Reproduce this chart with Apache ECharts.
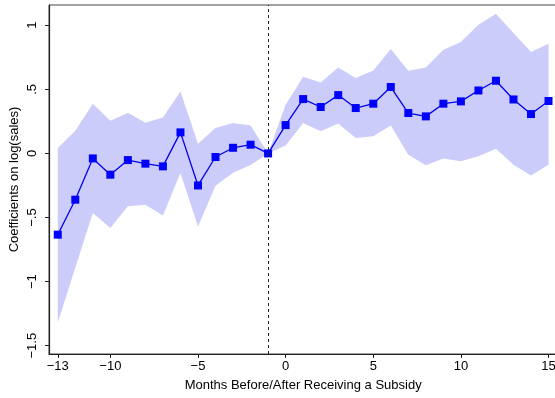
<!DOCTYPE html>
<html>
<head>
<meta charset="utf-8">
<script src="https://cdn.jsdelivr.net/npm/echarts@6/dist/echarts.min.js"></script>
<style>
  html, body { margin: 0; padding: 0; background: #fff; }
  #chart { width: 555px; height: 398px; }
</style>
</head>
<body>
<div id="chart"></div>
<script>
// Event-study coefficients on log(sales) by month relative to subsidy receipt
const months = [-13,-12,-11,-10,-9,-8,-7,-6,-5,-4,-3,-2,-1,0,1,2,3,4,5,6,7,8,9,10,11,12,13,14,15];
const coef = [-0.634,-0.361,-0.039,-0.166,-0.052,-0.080,-0.101,0.164,-0.250,-0.028,0.044,0.068,0.000,
              0.221,0.424,0.362,0.455,0.354,0.388,0.518,0.315,0.289,0.388,0.406,0.491,0.567,0.421,0.307,0.409];
const upper = [0.042,0.177,0.388,0.255,0.317,0.239,0.281,0.484,0.075,0.198,0.237,0.218,0.000,
               0.380,0.598,0.554,0.671,0.588,0.647,0.814,0.645,0.671,0.809,0.869,1.004,1.090,0.939,0.791,0.856];
const lower = [-1.320,-0.892,-0.465,-0.582,-0.413,-0.400,-0.484,-0.153,-0.570,-0.252,-0.150,-0.090,0.000,
               0.062,0.237,0.172,0.234,0.120,0.133,0.218,-0.010,-0.093,-0.039,-0.062,-0.023,0.037,-0.088,-0.172,-0.088];
const xTicks = [-13,-10,-5,0,5,10,15];
const yTicks = [-1.5,-1,-0.5,0,0.5,1];
const eventMonth = -1;

const fmt = v => {
  if (v === 0) return '0';
  let s = Math.abs(v).toString().replace(/^0\./, '.');
  return (v < 0 ? '\u2212' : '') + s;
};

const font = 'Liberation Sans, Arial, Helvetica, sans-serif';
const chart = echarts.init(document.getElementById('chart'), null, { renderer: 'canvas' });

chart.setOption({
  animation: false,
  grid: {
    left: 49, top: 5, bottom: 44, right: -2.3,
    outerBoundsMode: 'none', containLabel: false,
    show: true, borderColor: '#444', borderWidth: 1
  },
  xAxis: {
    type: 'value', min: -13.5, max: 15.5,
    name: 'Months Before/After Receiving a Subsidy',
    nameLocation: 'middle', nameGap: 25, nameMoveOverlap: false,
    nameTextStyle: { fontFamily: font, fontSize: 13, color: '#000' },
    axisLine: { show: true, onZero: false, lineStyle: { color: '#222', width: 1.2 } },
    axisTick: { show: true, length: 4, customValues: xTicks, lineStyle: { color: '#222' } },
    axisLabel: { customValues: xTicks, formatter: fmt, margin: 6, fontFamily: font, fontSize: 13, color: '#000' },
    splitLine: { show: false }
  },
  yAxis: {
    type: 'value', min: -1.565, max: 1.158,
    name: 'Coefficients on log(sales)',
    nameLocation: 'middle', nameGap: 28, nameMoveOverlap: false,
    nameTextStyle: { fontFamily: font, fontSize: 13, color: '#000' },
    axisLine: { show: true, onZero: false, lineStyle: { color: '#222', width: 1.2 } },
    axisTick: { show: true, length: 4, customValues: yTicks, lineStyle: { color: '#222' } },
    axisLabel: { customValues: yTicks, formatter: fmt, rotate: 90, margin: 10, fontFamily: font, fontSize: 13, color: '#000' },
    splitLine: { show: false }
  },
  series: [
    {
      // confidence band drawn as one polygon through the axis scales
      type: 'custom',
      data: [0],
      silent: true,
      z: 1,
      renderItem: (params, api) => {
        const pts = [];
        for (let i = 0; i < months.length; i++) pts.push(api.coord([months[i], upper[i]]));
        for (let i = months.length - 1; i >= 0; i--) pts.push(api.coord([months[i], lower[i]]));
        return {
          type: 'polygon',
          shape: { points: pts },
          style: { fill: '#ccccfb', stroke: null }
        };
      }
    },
    {
      type: 'line',
      data: months.map((m, i) => [m, coef[i]]),
      z: 3,
      symbol: 'rect',
      symbolSize: 8,
      itemStyle: { color: '#0000ff' },
      lineStyle: { color: '#0000ee', width: 1.3 },
      markLine: {
        silent: true,
        symbol: ['none', 'none'],
        label: { show: false },
        lineStyle: { color: '#222', type: [3, 3], width: 1 },
        data: [{ xAxis: eventMonth }]
      }
    }
  ]
});
</script>
</body>
</html>
